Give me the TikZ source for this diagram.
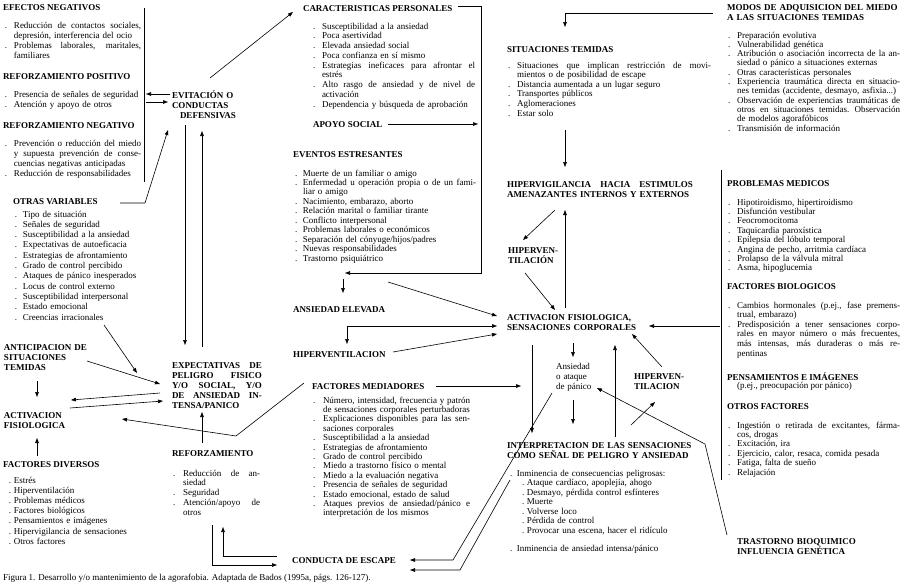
\documentclass[tikz,border=0pt]{standalone}
\usepackage{fontspec}
\setmainfont{Liberation Serif}
\usetikzlibrary{arrows.meta}
\newlength\Lbi
\newlength\Ltw
\newcommand\jus[2]{\leavevmode\hbox to #1{\spaceskip=.25em plus 1fil\xspaceskip=.25em plus 1fil\relax #2}}
\newcommand\ibj[1]{\leavevmode\makebox[\Lbi][l]{.}\jus{\Ltw}{#1}}
\newcommand\ibl[1]{\leavevmode\makebox[\Lbi][l]{.}#1}
\newcommand\icj[1]{\leavevmode\hspace*{\Lbi}\jus{\Ltw}{#1}}
\newcommand\icl[1]{\leavevmode\hspace*{\Lbi}#1}
\begin{document}
\begin{tikzpicture}[x=1pt,y=-1pt,line width=0.6pt,
  >={Triangle[length=5pt,width=3.6pt]},
  every node/.style={inner sep=0pt,outer sep=0pt,anchor=base west},
  hd/.style={font=\fontsize{9}{10}\selectfont\bfseries},
  hdm/.style={hd,align=left,text width=#1},
  lst/.style n args={3}{font=\fontsize{9}{#3}\selectfont,align=left,text width=#1+#2+40pt,execute at begin node={\setlength\Lbi{#1}\setlength\Ltw{#2}}},
  txt/.style={font=\fontsize{9}{10}\selectfont}]
\fill[white] (0,0) rectangle (906,587);
\useasboundingbox (0,0) rectangle (906,587);

% ---------------- left column
\node[hd] (efn) at (3,10) {EFECTOS NEGATIVOS};
\node[lst={9pt}{127pt}{10.2pt}] (efnl) at (5,28) {\ibj{Reducción de contactos sociales,}\\ \icl{depresión, interferencia del ocio}\\ \ibj{Problemas laborales, maritales,}\\ \icl{familiares}};
\node[hd] (rpos) at (3,79) {REFORZAMIENTO POSITIVO};
\node[lst={9pt}{127pt}{10pt}] (rposl) at (5,97) {\ibl{Presencia de señales de seguridad}\\ \ibl{Atención y apoyo de otros}};
\node[hd] (rneg) at (3,128) {REFORZAMIENTO NEGATIVO};
\node[lst={9pt}{127pt}{10pt}] (rnegl) at (5,146) {\ibj{Prevención o reducción del miedo}\\ \icj{y supuesta prevención de conse-}\\ \icl{cuencias negativas anticipadas}\\ \ibl{Reducción de responsabilidades}};
\draw (144,8) -- (144,182);
\draw[->] (170,94) -- (146,94);
\draw[->] (146,102) -- (168,102);

\node[hdm=80pt] (evit) at (172,98) {EVITACIÓN O\\CONDUCTAS\\\hspace*{8pt}DEFENSIVAS};
\draw[->] (210,78) -- (293,12);

\node[hd] (otras) at (13,204) {OTRAS VARIABLES};
\draw[->] (120,203) -- (145,203) -- (168,130);
\node[lst={8pt}{150pt}{10.3pt}] (otrasl) at (15,217) {\ibl{Tipo de situación}\\ \ibl{Señales de seguridad}\\ \ibl{Susceptibilidad a la ansiedad}\\ \ibl{Expectativas de autoeficacia}\\ \ibl{Estrategias de afrontamiento}\\ \ibl{Grado de control percibido}\\ \ibl{Ataques de pánico inesperados}\\ \ibl{Locus de control externo}\\ \ibl{Susceptibilidad interpersonal}\\ \ibl{Estado emocional}\\ \ibl{Creencias irracionales}};
\draw[->] (104,325) -- (137,373);

\node[hdm=100pt] (antic) at (4,350) {ANTICIPACION DE\\SITUACIONES\\TEMIDAS};
\draw[->] (87,361) -- (160,384);
\draw[->] (37,381) -- (37,397);
\node[hdm=80pt] (actf) at (4,418) {ACTIVACION\\FISIOLOGICA};
\draw[->] (160,393) -- (71,400);
\draw[->] (70,408) -- (163,401);
\node[hd] (fdiv) at (3,467) {FACTORES DIVERSOS};
\draw[->] (37,456) -- (37,438);
\node[lst={5pt}{150pt}{10.2pt}] (fdivl) at (9,483) {\ibl{Estrés}\\ \ibl{Hiperventilación}\\ \ibl{Problemas médicos}\\ \ibl{Factores biológicos}\\ \ibl{Pensamientos e imágenes}\\ \ibl{Hipervigilancia de sensaciones}\\ \ibl{Otros factores}};

\node[hdm=92pt] (expec) at (172,368) {\jus{90pt}{EXPECTATIVAS DE}\\\jus{90pt}{PELIGRO FISICO}\\\jus{90pt}{Y/O SOCIAL, Y/O}\\\jus{90pt}{DE ANSIEDAD IN-}\\TENSA/PANICO};
\draw[->] (185,125) -- (185,345);
\draw[->] (202,347) -- (202,131);

\node[hd] (refz) at (172,456) {REFORZAMIENTO};
\draw[->] (202,443) -- (202,412);
\node[lst={10pt}{77pt}{9.8pt}] (refzl) at (173,476) {\ibj{Reducción de an-}\\ \icl{siedad}\\ \ibl{Seguridad}\\ \ibj{Atención/apoyo de}\\ \icl{otros}};
\draw[->] (212,525) -- (212,565) -- (277,565);
\draw[->] (277,556) -- (223,556) -- (223,527);

% ---------------- middle column
\node[hd] (carac) at (303,11) {CARACTERISTICAS PERSONALES};
\draw[->] (458,6) -- (481,6) -- (481,273) -- (345,273);
\node[lst={9pt}{153pt}{9.75pt}] (caracl) at (313,29) {\ibl{Susceptibilidad a la ansiedad}\\ \ibl{Poca asertividad}\\ \ibl{Elevada ansiedad social}\\ \ibl{Poca confianza en sí mismo}\\ \ibj{Estrategias ineficaces para afrontar el}\\ \icl{estrés}\\ \ibj{Alto rasgo de ansiedad y de nivel de}\\ \icl{activación}\\ \ibl{Dependencia y búsqueda de aprobación}};
\node[hd] (apoyo) at (313,127) {APOYO SOCIAL};
\draw[->] (388,124) -- (478,124);
\node[hd] (event) at (293,157) {EVENTOS ESTRESANTES};
\node[lst={8pt}{173pt}{9.45pt}] (eventl) at (295,176) {\ibl{Muerte de un familiar o amigo}\\ \ibj{Enfermedad u operación propia o de un fami-}\\ \icl{liar o amigo}\\ \ibl{Nacimiento, embarazo, aborto}\\ \ibl{Relación marital o familiar tirante}\\ \ibl{Conflicto interpersonal}\\ \ibl{Problemas laborales o económicos}\\ \ibl{Separación del cónyuge/hijos/padres}\\ \ibl{Nuevas responsabilidades}\\ \ibl{Trastorno psiquiátrico}};
\draw[->] (343,279) -- (343,293);
\node[hd] (ansel) at (293,312) {ANSIEDAD ELEVADA};
\draw[->] (388,282) -- (497,316);
\draw[<->] (497,326) -- (347,326) -- (347,344);
\node[hd] (hipv1) at (293,357) {HIPERVENTILACION};
\draw[->] (393,352) -- (497,334);
\node[hd] (fmed) at (312,389) {FACTORES MEDIADORES};
\draw[->] (436,386) -- (521,386);
\node[lst={10pt}{147pt}{9.4pt}] (fmedl) at (313,403) {\ibj{Número, intensidad, frecuencia y patrón}\\ \icl{de sensaciones corporales perturbadoras}\\ \ibj{Explicaciones disponibles para las sen-}\\ \icl{saciones corporales}\\ \ibl{Susceptibilidad a la ansiedad}\\ \ibl{Estrategias de afrontamiento}\\ \ibl{Grado de control percibido}\\ \ibl{Miedo a trastorno físico o mental}\\ \ibl{Miedo a la evaluación negativa}\\ \ibl{Presencia de señales de seguridad}\\ \ibl{Estado emocional, estado de salud}\\ \ibj{Ataques previos de ansiedad/pánico e}\\ \icl{interpretación de los mismos}};
\draw[->] (304,383) -- (236,436) -- (122,419);
\node[hd] (cond) at (292,563) {CONDUCTA DE ESCAPE};
\draw[->] (552,393) -- (453,560) -- (410,560);
\draw[->] (510,480) -- (460,570) -- (410,570);

% ---------------- centre right
\node[hd] (sitt) at (507,52) {SITUACIONES TEMIDAS};
\draw[->] (713,13) -- (565,13) -- (565,27);
\node[lst={9pt}{194pt}{9.6pt}] (sittl) at (508,68) {\ibj{Situaciones que implican restricción de movi-}\\ \icl{mientos o de posibilidad de escape}\\ \ibl{Distancia aumentada a un lugar seguro}\\ \ibl{Transportes públicos}\\ \ibl{Aglomeraciones}\\ \ibl{Estar solo}};
\draw[->] (565,130) -- (565,167);
\node[hdm=190pt] (hiperv) at (507,187) {\jus{186pt}{HIPERVIGILANCIA HACIA ESTIMULOS}\\AMENAZANTES INTERNOS Y EXTERNOS};
\draw[->] (555,210) -- (523,240);
\draw[->] (565,308) -- (565,210);
\node[hdm=60pt] (hipv2) at (508,253) {HIPERVEN-\\TILACIÓN};
\draw[->] (525,273) -- (555,310);
\node[hdm=140pt] (act) at (507,320) {ACTIVACION FISIOLOGICA,\\SENSACIONES CORPORALES};
\draw[->] (720,326) -- (649,326);
\draw[->] (573,343) -- (573,357);
\node[txt,align=left,text width=50pt] (ans) at (556,369) {Ansiedad\\o ataque\\de pánico};
\draw[->] (532,345) -- (532,433);
\draw[->] (573,400) -- (573,424);
\draw[->] (615,437) -- (615,345);
\node[hdm=60pt] (hipv3) at (634,379) {HIPERVEN-\\TILACION};
\draw[->] (662,367) -- (632,334);
\draw[->] (631,425) -- (655,402);
\draw[->] (727,535) -- (705,444) -- (597,388);
\node[hdm=200pt] (interp) at (507,448) {INTERPRETACION DE LAS SENSACIONES\\COMO SEÑAL DE PELIGRO Y ANSIEDAD};
\node[lst={7pt}{160pt}{9.5pt}] (interpl) at (510,476) {\makebox[7pt][l]{.}Inminencia de consecuencias peligrosas:\\ \hspace*{12pt}\makebox[5pt][l]{.}Ataque cardíaco, apoplejía, ahogo\\ \hspace*{12pt}\makebox[5pt][l]{.}Desmayo, pérdida control esfínteres\\ \hspace*{12pt}\makebox[5pt][l]{.}Muerte\\ \hspace*{12pt}\makebox[5pt][l]{.}Volverse loco\\ \hspace*{12pt}\makebox[5pt][l]{.}Pérdida de control\\ \hspace*{12pt}\makebox[5pt][l]{.}Provocar una escena, hacer el ridículo\\[8.5pt] \makebox[7pt][l]{.}Inminencia de ansiedad intensa/pánico};

% ---------------- right column
\node[hdm=180pt] (modos) at (727,10) {MODOS DE ADQUISICION DEL MIEDO\\A LAS SITUACIONES TEMIDAS};
\node[lst={9pt}{163pt}{9.33pt}] (modosl) at (728,38) {\ibl{Preparación evolutiva}\\ \ibl{Vulnerabilidad genética}\\ \ibj{Atribución o asociación incorrecta de la an-}\\ \icl{siedad o pánico a situaciones externas}\\ \ibl{Otras características personales}\\ \ibj{Experiencia traumática directa en situacio-}\\ \icl{nes temidas (accidente, desmayo, asfixia...)}\\ \ibj{Observación de experiencias traumáticas de}\\ \icj{otros en situaciones temidas. Observación}\\ \icl{de modelos agorafóbicos}\\ \ibl{Transmisión de información}};
\draw (721,170) -- (721,480);
\node[hd] (pmed) at (727,186) {PROBLEMAS MEDICOS};
\node[lst={9pt}{163pt}{9.4pt}] (pmedl) at (728,205) {\ibl{Hipotiroidismo, hipertiroidismo}\\ \ibl{Disfunción vestibular}\\ \ibl{Feocromocitoma}\\ \ibl{Taquicardia paroxística}\\ \ibl{Epilepsia del lóbulo temporal}\\ \ibl{Angina de pecho, arritmia cardíaca}\\ \ibl{Prolapso de la válvula mitral}\\ \ibl{Asma, hipoglucemia}};
\node[hd] (fbio) at (727,289) {FACTORES BIOLOGICOS};
\node[lst={9pt}{163pt}{9.6pt}] (fbiol) at (728,308) {\ibj{Cambios hormonales (p.ej., fase premens-}\\ \icl{trual, embarazo)}\\ \ibj{Predisposición a tener sensaciones corpo-}\\ \icj{rales en mayor número o más frecuentes,}\\ \icj{más intensas, más duraderas o más re-}\\ \icl{pentinas}};
\node[hd] (pens) at (727,380) {PENSAMIENTOS E IMÁGENES};
\node[txt] (pensl) at (737,388) {(p.ej., preocupación por pánico)};
\node[hd] (otrf) at (727,409) {OTROS FACTORES};
\node[lst={9pt}{163pt}{9.4pt}] (otrfl) at (728,428) {\ibj{Ingestión o retirada de excitantes, fárma-}\\ \icl{cos, drogas}\\ \ibl{Excitación, ira}\\ \ibl{Ejercicio, calor, resaca, comida pesada}\\ \ibl{Fatiga, falta de sueño}\\ \ibl{Relajación}};
\node[hdm=120pt] (trast) at (737,544) {TRASTORNO BIOQUIMICO\\INFLUENCIA GENÉTICA};

\node[txt] (cap) at (3,580) {Figura 1. Desarrollo y/o mantenimiento de la agorafobia. Adaptada de Bados (1995a, págs. 126-127).};
\end{tikzpicture}
\end{document}
